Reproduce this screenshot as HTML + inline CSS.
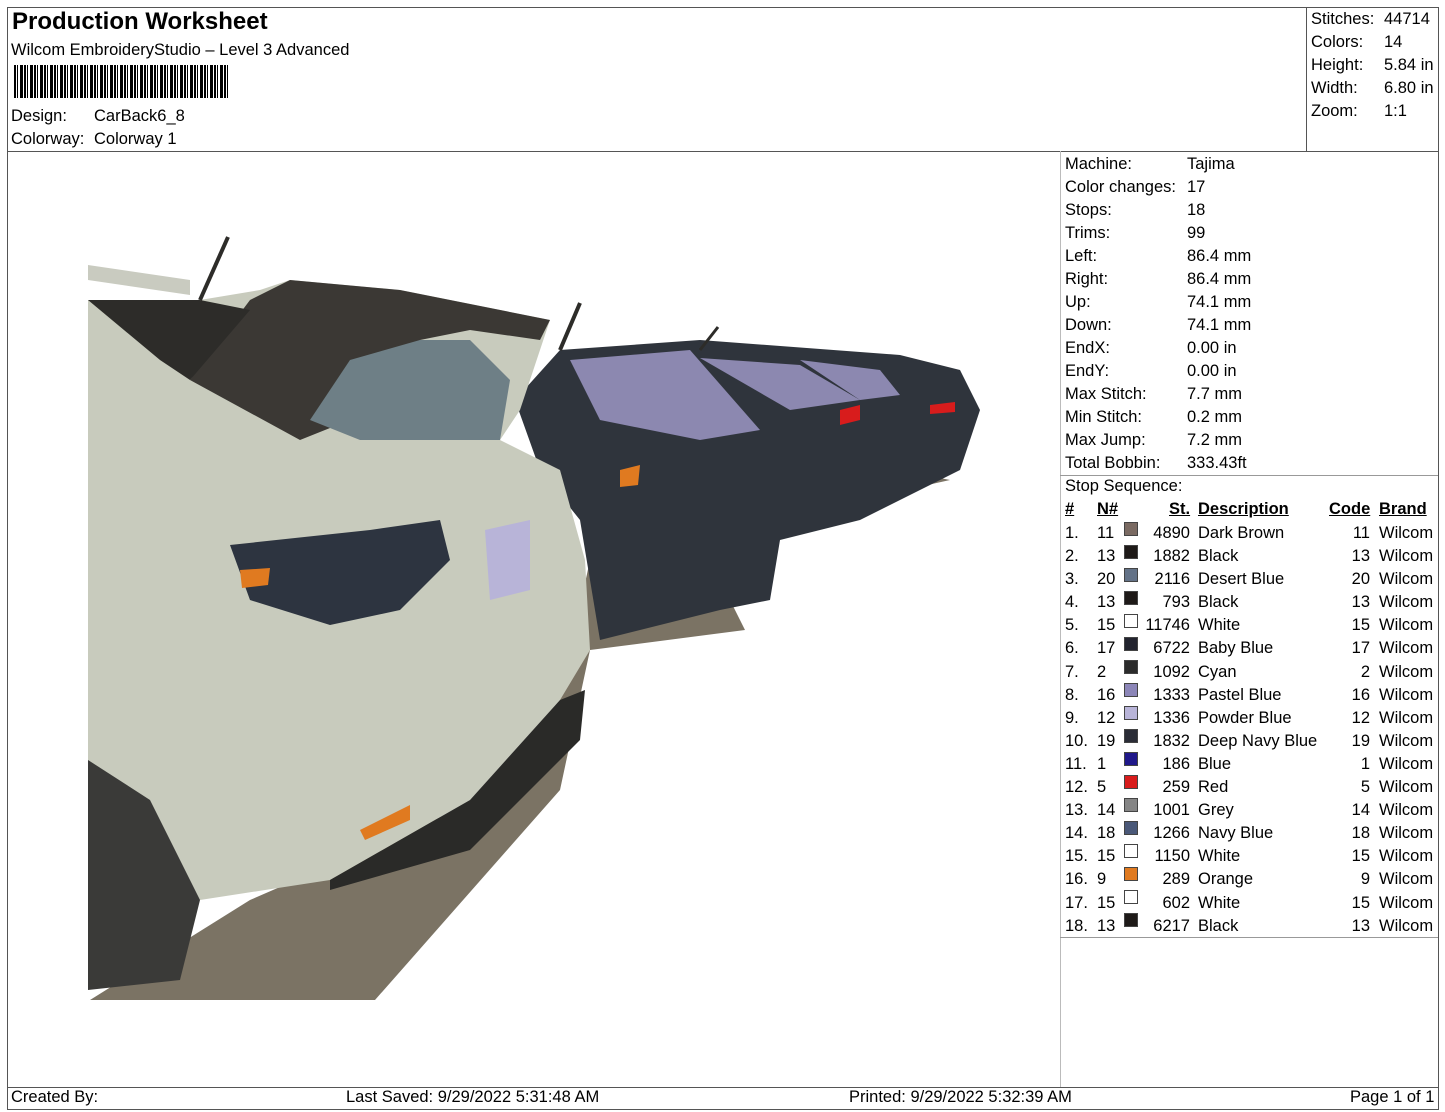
<!DOCTYPE html>
<html><head><meta charset="utf-8"><style>
body{margin:0;width:1445px;height:1112px;background:#fff;font-family:"Liberation Sans",Arial,sans-serif;color:#000;position:relative;overflow:hidden}
.a{position:absolute;white-space:nowrap}
.l{position:absolute;background:#555}
.f{font-size:16.5px}
.sw{position:absolute;width:12px;height:12px;border:1px solid #444}
</style></head><body>
<div class="l" style="left:7px;top:7px;width:1431px;height:1px"></div>
<div class="l" style="left:7px;top:7px;width:1px;height:1103px"></div>
<div class="l" style="left:1438px;top:7px;width:1px;height:1103px"></div>
<div class="l" style="left:7px;top:1109px;width:1432px;height:1px"></div>
<div class="l" style="left:7px;top:151px;width:1431px;height:1px"></div>
<div class="l" style="left:1306px;top:7px;width:1px;height:144px"></div>
<div class="l" style="left:1060px;top:151px;width:1px;height:936px;background:#bbb"></div>
<div class="l" style="left:1060px;top:475px;width:378px;height:1px;background:#999"></div>
<div class="l" style="left:1060px;top:937px;width:378px;height:1px;background:#999"></div>
<div class="l" style="left:7px;top:1087px;width:1431px;height:1px"></div>

<div class="a" style="left:12px;top:8px;font-size:24px;font-weight:bold">Production Worksheet</div>
<div class="a f" style="left:11px;top:41px">Wilcom EmbroideryStudio – Level 3 Advanced</div>
<div class="a" style="left:14px;top:65px;width:216px;height:33px;background:repeating-linear-gradient(90deg,#000 0 2px,#fff 2px 3px,#000 3px 4px,#fff 4px 6px,#000 6px 9px,#fff 9px 10px)"></div>
<div class="a f" style="left:11px;top:107px">Design:</div><div class="a f" style="left:94px;top:107px">CarBack6_8</div>
<div class="a f" style="left:11px;top:130px">Colorway:</div><div class="a f" style="left:94px;top:130px">Colorway 1</div>

<div class="a f" style="left:1311px;top:8px;line-height:23px">Stitches:<br>Colors:<br>Height:<br>Width:<br>Zoom:</div>
<div class="a f" style="left:1384px;top:8px;line-height:23px">44714<br>14<br>5.84 in<br>6.80 in<br>1:1</div>

<div class="a f" style="left:1065px;top:153px;line-height:23px">Machine:<br>Color changes:<br>Stops:<br>Trims:<br>Left:<br>Right:<br>Up:<br>Down:<br>EndX:<br>EndY:<br>Max Stitch:<br>Min Stitch:<br>Max Jump:<br>Total Bobbin:<br>Stop Sequence:</div>
<div class="a f" style="left:1187px;top:153px;line-height:23px">Tajima<br>17<br>18<br>99<br>86.4 mm<br>86.4 mm<br>74.1 mm<br>74.1 mm<br>0.00 in<br>0.00 in<br>7.7 mm<br>0.2 mm<br>7.2 mm<br>333.43ft</div>

<div class="a f" style="left:1065px;top:500px;font-weight:bold;text-decoration:underline">#</div>
<div class="a f" style="left:1097px;top:500px;font-weight:bold;text-decoration:underline">N#</div>
<div class="a f" style="left:1169px;top:500px;font-weight:bold;text-decoration:underline">St.</div>
<div class="a f" style="left:1198px;top:500px;font-weight:bold;text-decoration:underline">Description</div>
<div class="a f" style="left:1329px;top:500px;font-weight:bold;text-decoration:underline">Code</div>
<div class="a f" style="left:1379px;top:500px;font-weight:bold;text-decoration:underline">Brand</div>

<div class="a f" style="left:1065px;top:522px;line-height:23.1px">1.<br>2.<br>3.<br>4.<br>5.<br>6.<br>7.<br>8.<br>9.<br>10.<br>11.<br>12.<br>13.<br>14.<br>15.<br>16.<br>17.<br>18.</div>
<div class="a f" style="left:1097px;top:522px;line-height:23.1px">11<br>13<br>20<br>13<br>15<br>17<br>2<br>16<br>12<br>19<br>1<br>5<br>14<br>18<br>15<br>9<br>15<br>13</div>
<div class="a f" style="left:1140px;top:522px;width:50px;text-align:right;line-height:23.1px">4890<br>1882<br>2116<br>793<br>11746<br>6722<br>1092<br>1333<br>1336<br>1832<br>186<br>259<br>1001<br>1266<br>1150<br>289<br>602<br>6217</div>
<div class="a f" style="left:1198px;top:522px;line-height:23.1px">Dark Brown<br>Black<br>Desert Blue<br>Black<br>White<br>Baby Blue<br>Cyan<br>Pastel Blue<br>Powder Blue<br>Deep Navy Blue<br>Blue<br>Red<br>Grey<br>Navy Blue<br>White<br>Orange<br>White<br>Black</div>
<div class="a f" style="left:1340px;top:522px;width:30px;text-align:right;line-height:23.1px">11<br>13<br>20<br>13<br>15<br>17<br>2<br>16<br>12<br>19<br>1<br>5<br>14<br>18<br>15<br>9<br>15<br>13</div>
<div class="a f" style="left:1379px;top:522px;line-height:23.1px">Wilcom<br>Wilcom<br>Wilcom<br>Wilcom<br>Wilcom<br>Wilcom<br>Wilcom<br>Wilcom<br>Wilcom<br>Wilcom<br>Wilcom<br>Wilcom<br>Wilcom<br>Wilcom<br>Wilcom<br>Wilcom<br>Wilcom<br>Wilcom</div>

<div class="sw" style="left:1124px;top:522px;background:#7a6a62"></div>
<div class="sw" style="left:1124px;top:545px;background:#1e1a18"></div>
<div class="sw" style="left:1124px;top:568px;background:#637287"></div>
<div class="sw" style="left:1124px;top:591px;background:#1e1a18"></div>
<div class="sw" style="left:1124px;top:614px;background:#fff"></div>
<div class="sw" style="left:1124px;top:637px;background:#22232e"></div>
<div class="sw" style="left:1124px;top:660px;background:#2b2b2b"></div>
<div class="sw" style="left:1124px;top:683px;background:#8c86b8"></div>
<div class="sw" style="left:1124px;top:706px;background:#b8b4d8"></div>
<div class="sw" style="left:1124px;top:729px;background:#2a2c36"></div>
<div class="sw" style="left:1124px;top:752px;background:#20188a"></div>
<div class="sw" style="left:1124px;top:775px;background:#d81c1c"></div>
<div class="sw" style="left:1124px;top:798px;background:#858585"></div>
<div class="sw" style="left:1124px;top:821px;background:#4a5878"></div>
<div class="sw" style="left:1124px;top:844px;background:#fff"></div>
<div class="sw" style="left:1124px;top:867px;background:#e07a20"></div>
<div class="sw" style="left:1124px;top:890px;background:#fff"></div>
<div class="sw" style="left:1124px;top:913px;background:#1e1a18"></div>

<svg class="a" style="left:0;top:0" width="1060" height="1087">
<polygon points="90,1000 375,1000 560,790 590,650 745,630 700,540 850,520 905,490 950,480 900,470 700,520 590,560 560,700 480,800 250,900" fill="#7b7364"/>
<polygon points="515,400 560,350 700,340 900,355 960,370 980,410 960,470 900,500 860,520 780,540 770,600 720,610 600,640 580,520 540,470" fill="#2f343c"/>
<polygon points="570,360 690,350 760,430 700,440 600,420" fill="#8c88b0"/>
<polygon points="700,358 800,365 860,400 790,410" fill="#8c88b0"/>
<polygon points="800,360 880,370 900,395 860,400" fill="#8c88b0"/>
<polygon points="88,265 190,280 190,295 88,280" fill="#c9cbc0"/>
<polygon points="88,300 200,300 260,290 290,280 400,290 550,320 520,410 500,440 560,470 585,560 590,650 560,700 470,800 330,880 200,900 88,960" fill="#c8cbbd"/>
<polygon points="250,300 290,280 400,290 550,320 540,340 470,330 420,340 350,420 300,440 190,380" fill="#3b3834"/>
<polygon points="310,420 350,360 420,340 470,340 510,380 500,440 360,440" fill="#6e7f86"/>
<polygon points="88,300 200,300 250,310 190,380 160,360" fill="#2d2c29"/>
<polygon points="230,545 370,530 440,520 450,560 400,610 330,625 250,600" fill="#2d3440"/>
<polygon points="485,530 530,520 530,590 490,600" fill="#b8b4d8"/>
<polygon points="88,760 150,800 200,900 180,980 88,990" fill="#3a3a38"/>
<polygon points="330,880 470,800 560,700 585,690 580,740 470,850 330,890" fill="#2a2a28"/>
<polygon points="240,570 270,568 268,585 242,588" fill="#e07a20"/>
<polygon points="360,830 410,805 410,820 365,840" fill="#e07a20"/>
<polygon points="620,470 640,465 638,485 620,487" fill="#e07a20"/>
<polygon points="840,410 860,405 860,420 840,425" fill="#d81c1c"/>
<polygon points="930,405 955,402 955,412 930,414" fill="#d81c1c"/>
<line x1="200" y1="300" x2="228" y2="237" stroke="#2d2c29" stroke-width="4"/>
<line x1="560" y1="350" x2="580" y2="303" stroke="#2d2c29" stroke-width="4"/>
<line x1="700" y1="350" x2="718" y2="327" stroke="#2d2c29" stroke-width="3"/>
</svg>

<div class="a f" style="left:11px;top:1088px">Created By:</div>
<div class="a f" style="left:346px;top:1088px">Last Saved: 9/29/2022 5:31:48 AM</div>
<div class="a f" style="left:849px;top:1088px">Printed: 9/29/2022 5:32:39 AM</div>
<div class="a f" style="left:1350px;top:1088px">Page 1 of 1</div>
</body></html>
